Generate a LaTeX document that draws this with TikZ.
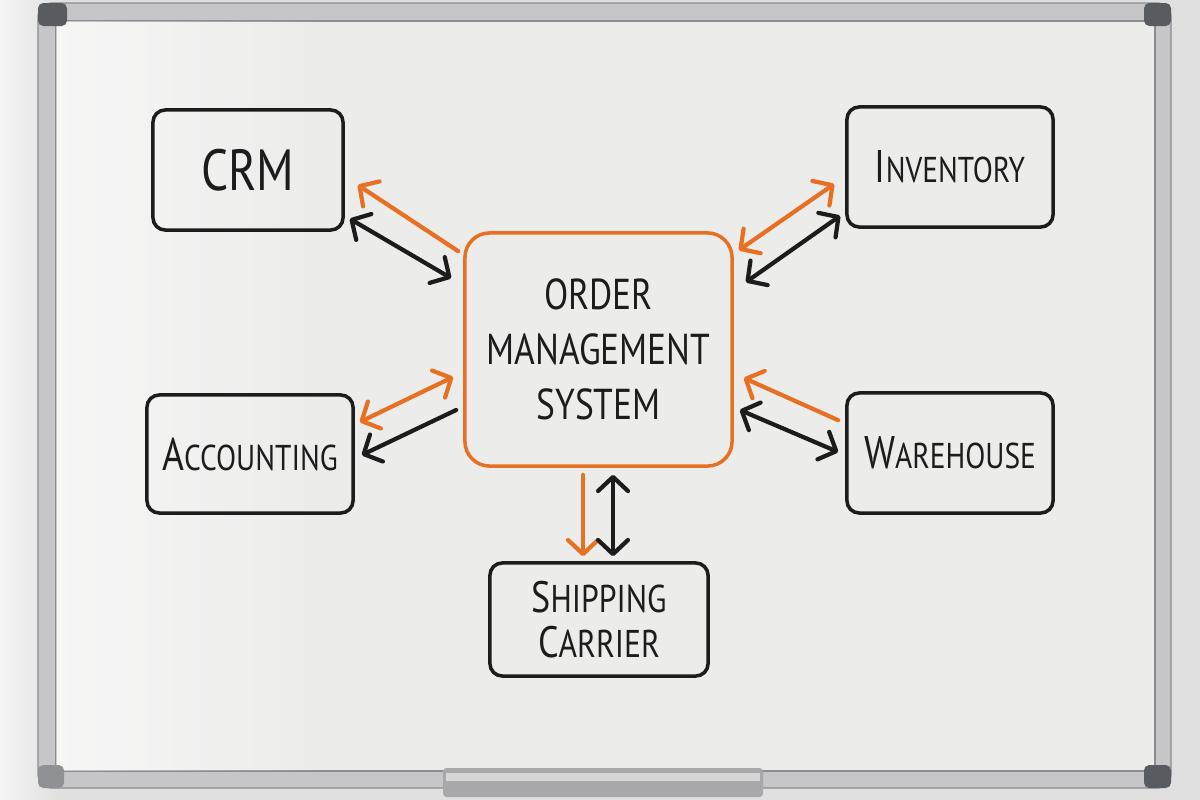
\documentclass[tikz,border=0pt]{standalone}
\usepackage{fontspec}
\setmainfont{PT Sans}[FakeStretch=0.82]
\usetikzlibrary{arrows.meta,fadings}
\definecolor{wall}{RGB}{224,224,224}
\definecolor{board}{RGB}{236,236,235}
\definecolor{frame}{RGB}{198,198,200}
\definecolor{frameedge}{RGB}{140,140,143}
\definecolor{cornercap}{RGB}{88,92,97}
\definecolor{ink}{RGB}{28,28,28}
\definecolor{marker}{RGB}{232,112,34}
\newcommand{\hsc}[2]{{\fontsize{13}{15}\selectfont #1}{\fontsize{10.2}{12}\selectfont #2}}

\begin{document}
\begin{tikzpicture}[x=0.01cm,y=-0.01cm,
		box/.style={draw=ink,line width=1pt,rounded corners=3.5pt,text=ink,align=center,inner sep=0pt},
		ink arrow/.style={draw=ink,line width=1.2pt,line cap=round},
		marker arrow/.style={draw=marker,line width=1.2pt,line cap=round},
		>={Straight Barb[length=4pt,width=8.5pt,line cap=round,line join=round]}]
			\useasboundingbox (0,0) rectangle (1200,800);
			% wall and board
			\fill[wall] (0,0) rectangle (1200,800);
			\fill[white,path fading=east,opacity=0.7] (0,0) rectangle (60,800);
			\fill[frame,draw=frameedge,line width=0.4pt,rounded corners=4pt] (38,3) rectangle (1171,788);
			\fill[board,draw=frameedge,line width=0.6pt] (56,21) rectangle (1155,771);
			\fill[white,path fading=east,opacity=0.55] (56,21) rectangle (330,771);
			\fill[cornercap,rounded corners=1.5pt] (38,3) rectangle (67,26);
			\fill[cornercap,rounded corners=1.5pt] (1144,3) rectangle (1171,26);
			\fill[cornercap,rounded corners=1.5pt] (1144,765) rectangle (1171,788);
			\fill[cornercap!50!frame,rounded corners=1.5pt] (38,765) rectangle (64,788);
			\fill[frame!85!black,rounded corners=1pt] (443,768) rectangle (763,797);
			\fill[frame!70!white] (446,773) rectangle (760,781);
			% nodes
			\node[box,minimum width=1.9cm,minimum height=1.2cm,font=\fontsize{16.5}{18}\selectfont] (crm) at (248,170) {CRM};
			\node[box,minimum width=2.06cm,minimum height=1.2cm] (inv) at (950,167) {\hsc{I}{NVENTORY}};
			\node[box,draw=marker,rounded corners=7pt,minimum width=2.67cm,minimum height=2.33cm,font=\fontsize{12.3}{15.6}\selectfont] (oms) at (598.5,349.5) {ORDER\\MANAGEMENT\\SYSTEM};
			\node[box,minimum width=2.06cm,minimum height=1.18cm] (acc) at (250,454) {\hsc{A}{CCOUNTING}};
			\node[box,minimum width=2.06cm,minimum height=1.2cm] (wh) at (950,453) {\hsc{W}{AREHOUSE}};
			\node[box,minimum width=2.18cm,minimum height=1.13cm,font=\fontsize{11}{12}\selectfont] (ship) at (599,619.5) {{\fontsize{12.5}{12}\selectfont S}HIPPING\\[1pt]{\fontsize{12.5}{12}\selectfont C}ARRIER};
			% connectors
			\draw[marker arrow,->] ([shift={(-5,20)}]oms.north west) -- ([shift={(13,15)}]crm.east);
			\draw[ink arrow,<->] ([shift={(5,-13)}]crm.south east) -- ([shift={(-12,47)}]oms.north west);
			\draw[marker arrow,<->] ([shift={(5,19)}]oms.north east) -- ([shift={(-11,17)}]inv.west);
			\draw[ink arrow,<->] ([shift={(12,51)}]oms.north east) -- ([shift={(-5,-13)}]inv.south west);
			\draw[marker arrow,<->] ([shift={(5,-32)}]acc.east) -- ([shift={(-10,27.5)}]oms.west);
			\draw[ink arrow,->] ([shift={(-7,60.5)}]oms.west) -- ([shift={(7,1)}]acc.east);
			\draw[marker arrow,->] ([shift={(-7,29)}]wh.north west) -- ([shift={(10,28.5)}]oms.east);
			\draw[ink arrow,<->] ([shift={(6,60.5)}]oms.east) -- ([shift={(-7,-1)}]wh.west);
			\draw[marker arrow,->] ([shift={(-15.5,7)}]oms.south) -- ([shift={(-16,-5)}]ship.north);
			\draw[ink arrow,<->] ([shift={(14.5,7)}]oms.south) -- ([shift={(14,-5)}]ship.north);
		\end{tikzpicture}
\end{document}
